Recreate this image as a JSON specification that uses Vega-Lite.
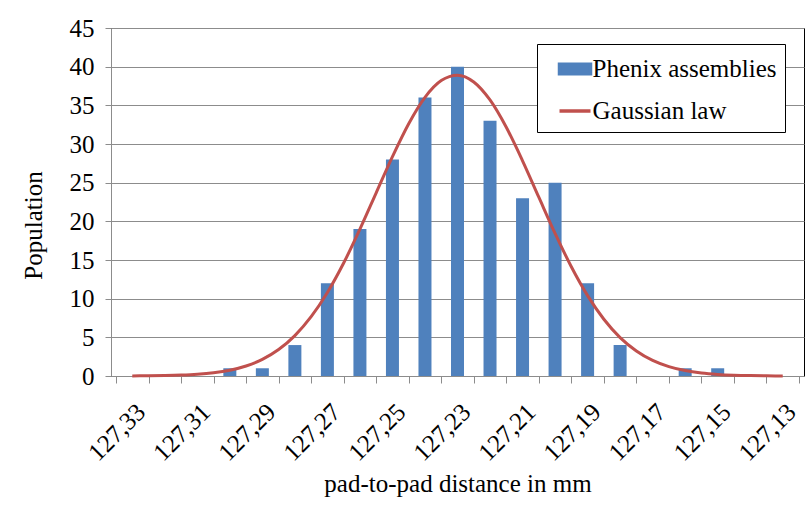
{
  "$schema": "https://vega.github.io/schema/vega-lite/v6.json",
  "width": 693,
  "height": 348,
  "autosize": "none",
  "padding": {"left": 111, "top": 28, "right": 5, "bottom": 134},
  "background": "white",
  "config": {
    "view": {"stroke": "#000000", "strokeWidth": 1},
    "font": "Liberation Serif"
  },
  "datasets": {
    "bars": [
      {"distance": 127.33, "population": 0},
      {"distance": 127.32, "population": 0},
      {"distance": 127.31, "population": 0},
      {"distance": 127.30, "population": 1},
      {"distance": 127.29, "population": 1},
      {"distance": 127.28, "population": 4},
      {"distance": 127.27, "population": 12},
      {"distance": 127.26, "population": 19},
      {"distance": 127.25, "population": 28},
      {"distance": 127.24, "population": 36},
      {"distance": 127.23, "population": 40},
      {"distance": 127.22, "population": 33},
      {"distance": 127.21, "population": 23},
      {"distance": 127.20, "population": 25},
      {"distance": 127.19, "population": 12},
      {"distance": 127.18, "population": 4},
      {"distance": 127.17, "population": 0},
      {"distance": 127.16, "population": 1},
      {"distance": 127.15, "population": 1},
      {"distance": 127.14, "population": 0},
      {"distance": 127.13, "population": 0}
    ],
    "gauss": [
      {"distance": 127.330, "population": 0.012},
      {"distance": 127.325, "population": 0.027},
      {"distance": 127.320, "population": 0.056},
      {"distance": 127.315, "population": 0.114},
      {"distance": 127.310, "population": 0.222},
      {"distance": 127.305, "population": 0.417},
      {"distance": 127.300, "population": 0.750},
      {"distance": 127.295, "population": 1.295},
      {"distance": 127.290, "population": 2.146},
      {"distance": 127.285, "population": 3.418},
      {"distance": 127.280, "population": 5.224},
      {"distance": 127.275, "population": 7.667},
      {"distance": 127.270, "population": 10.80},
      {"distance": 127.265, "population": 14.61},
      {"distance": 127.260, "population": 18.99},
      {"distance": 127.255, "population": 23.69},
      {"distance": 127.250, "population": 28.37},
      {"distance": 127.245, "population": 32.63},
      {"distance": 127.240, "population": 36.04},
      {"distance": 127.235, "population": 38.21},
      {"distance": 127.230, "population": 38.90},
      {"distance": 127.225, "population": 38.02},
      {"distance": 127.220, "population": 35.69},
      {"distance": 127.215, "population": 32.16},
      {"distance": 127.210, "population": 27.83},
      {"distance": 127.205, "population": 23.12},
      {"distance": 127.200, "population": 18.44},
      {"distance": 127.195, "population": 14.13},
      {"distance": 127.190, "population": 10.39},
      {"distance": 127.185, "population": 7.34},
      {"distance": 127.180, "population": 4.97},
      {"distance": 127.175, "population": 3.24},
      {"distance": 127.170, "population": 2.02},
      {"distance": 127.165, "population": 1.215},
      {"distance": 127.160, "population": 0.700},
      {"distance": 127.155, "population": 0.387},
      {"distance": 127.150, "population": 0.206},
      {"distance": 127.145, "population": 0.105},
      {"distance": 127.140, "population": 0.051},
      {"distance": 127.135, "population": 0.024},
      {"distance": 127.130, "population": 0.011}
    ]
  },
  "encoding": {
    "x": {
      "field": "distance",
      "type": "quantitative",
      "scale": {"domain": [127.125, 127.335], "reverse": true, "nice": false, "zero": false},
      "axis": {
        "values": [127.335, 127.33, 127.325, 127.32, 127.315, 127.31, 127.305, 127.30, 127.295, 127.29, 127.285, 127.28, 127.275, 127.27, 127.265, 127.26, 127.255, 127.25, 127.245, 127.24, 127.235, 127.23, 127.225, 127.22, 127.215, 127.21, 127.205, 127.20, 127.195, 127.19, 127.185, 127.18, 127.175, 127.17, 127.165, 127.16, 127.155, 127.15, 127.145, 127.14, 127.135, 127.13, 127.125],
        "labelExpr": "round(datum.value*1000) % 20 == 10 ? replace(format(datum.value, '.2f'), '.', ',') : ''",
        "tickColor": {"condition": {"test": "round(datum.value*1000) % 10 == 5", "value": "#8c8c8c"}, "value": "transparent"},
        "tickSize": 7,
        "tickWidth": 1,
        "grid": false,
        "domainColor": "#8c8c8c",
        "labelAngle": -45,
        "labelOverlap": false,
        "labelFlush": false,
        "labelFont": "Liberation Serif",
        "labelFontSize": 25,
        "labelColor": "#000000",
        "labelPadding": 16,
        "title": "pad-to-pad distance in mm",
        "titleFont": "Liberation Serif",
        "titleFontSize": 25,
        "titleFontWeight": "normal",
        "titleColor": "#000000",
        "titleY": 107,
        "titleBaseline": "middle"
      }
    },
    "y": {
      "field": "population",
      "type": "quantitative",
      "scale": {"domain": [0, 45], "nice": false},
      "axis": {
        "values": [0, 5, 10, 15, 20, 25, 30, 35, 40, 45],
        "grid": true,
        "gridColor": "#8c8c8c",
        "gridWidth": 1,
        "domainColor": "#8c8c8c",
        "tickColor": "#8c8c8c",
        "tickSize": 6,
        "labelOverlap": false,
        "labelFlush": false,
        "labelFont": "Liberation Serif",
        "labelFontSize": 25,
        "labelColor": "#000000",
        "labelPadding": 11,
        "title": "Population",
        "titleFont": "Liberation Serif",
        "titleFontSize": 25,
        "titleFontWeight": "normal",
        "titleColor": "#000000",
        "titleX": -78,
        "titleY": 197,
        "titleBaseline": "middle"
      }
    },
    "color": {
      "type": "nominal",
      "scale": {"domain": ["Phenix assemblies", "Gaussian law"], "range": ["#4F81BD", "#C0504D"]},
      "legend": {
        "orient": "none",
        "legendX": 426,
        "legendY": 16,
        "title": null,
        "padding": 7.5,
        "rowPadding": 11,
        "symbolSize": 961,
        "symbolOffset": 13,
        "labelOffset": 0,
        "labelFont": "Liberation Serif",
        "labelFontSize": 25,
        "labelColor": "#000000",
        "labelLimit": 400,
        "strokeColor": "#000000",
        "fillColor": "#ffffff",
        "encode": {
          "symbols": {
            "update": {
              "shape": {"signal": "datum.value === 'Gaussian law' ? 'stroke' : 'M-1,-0.3H1V0.3H-1Z'"},
              "fill": {"signal": "datum.value === 'Gaussian law' ? 'transparent' : '#4F81BD'"},
              "stroke": {"signal": "datum.value === 'Gaussian law' ? '#C0504D' : 'transparent'"},
              "strokeWidth": {"value": 3.5},
              "size": {"value": 961},
              "opacity": {"value": 1}
            }
          }
        }
      }
    }
  },
  "layer": [
    {
      "data": {"name": "bars"},
      "mark": {"type": "bar", "width": 13},
      "encoding": {
        "color": {"datum": "Phenix assemblies", "type": "nominal"}
      }
    },
    {
      "data": {"name": "gauss"},
      "mark": {"type": "line", "strokeWidth": 3, "interpolate": "monotone"},
      "encoding": {
        "color": {"datum": "Gaussian law", "type": "nominal"}
      }
    }
  ]
}
